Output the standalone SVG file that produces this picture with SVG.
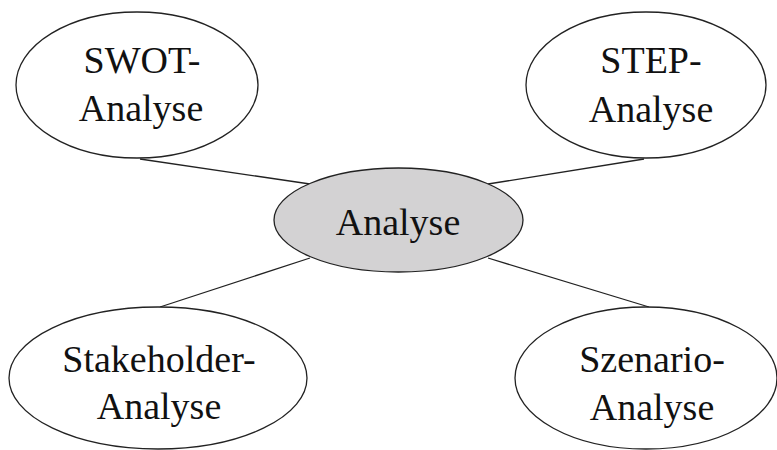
<svg xmlns="http://www.w3.org/2000/svg" width="777" height="450" viewBox="0 0 777 450">
<style>
.n{fill:#ffffff;stroke:#222;stroke-width:1.3}
.c{fill:#d3d2d3;stroke:#222;stroke-width:1.3}
.e{stroke:#222;stroke-width:1.3;fill:none}
text{font-family:"Liberation Serif","Times New Roman",serif;font-size:38px;fill:#111;text-anchor:middle}
</style>
<rect width="777" height="450" fill="#ffffff"/>
<g id="connectors">
<line class="e" x1="140" y1="159" x2="310" y2="184"/>
<line class="e" x1="644" y1="159" x2="488" y2="184"/>
<line class="e" x1="310" y1="258" x2="160" y2="307"/>
<line class="e" x1="488" y1="258" x2="649" y2="307"/>
</g>
<g id="swot">
<ellipse class="n" cx="137" cy="85" rx="121" ry="73"/>
<text x="142" y="73">SWOT-</text>
<text x="141" y="121">Analyse</text>
</g>
<g id="step">
<ellipse class="n" cx="646" cy="85" rx="120" ry="73"/>
<text x="651" y="73">STEP-</text>
<text x="651" y="122">Analyse</text>
</g>
<g id="analyse">
<ellipse class="c" cx="398.5" cy="220" rx="124.5" ry="52"/>
<text x="398" y="235">Analyse</text>
</g>
<g id="stakeholder">
<ellipse class="n" cx="158" cy="378" rx="149" ry="71"/>
<text x="159" y="372">Stakeholder-</text>
<text x="159" y="419">Analyse</text>
</g>
<g id="szenario">
<ellipse class="n" cx="646" cy="378" rx="131" ry="71"/>
<text x="652" y="372">Szenario-</text>
<text x="652" y="420">Analyse</text>
</g>
</svg>
